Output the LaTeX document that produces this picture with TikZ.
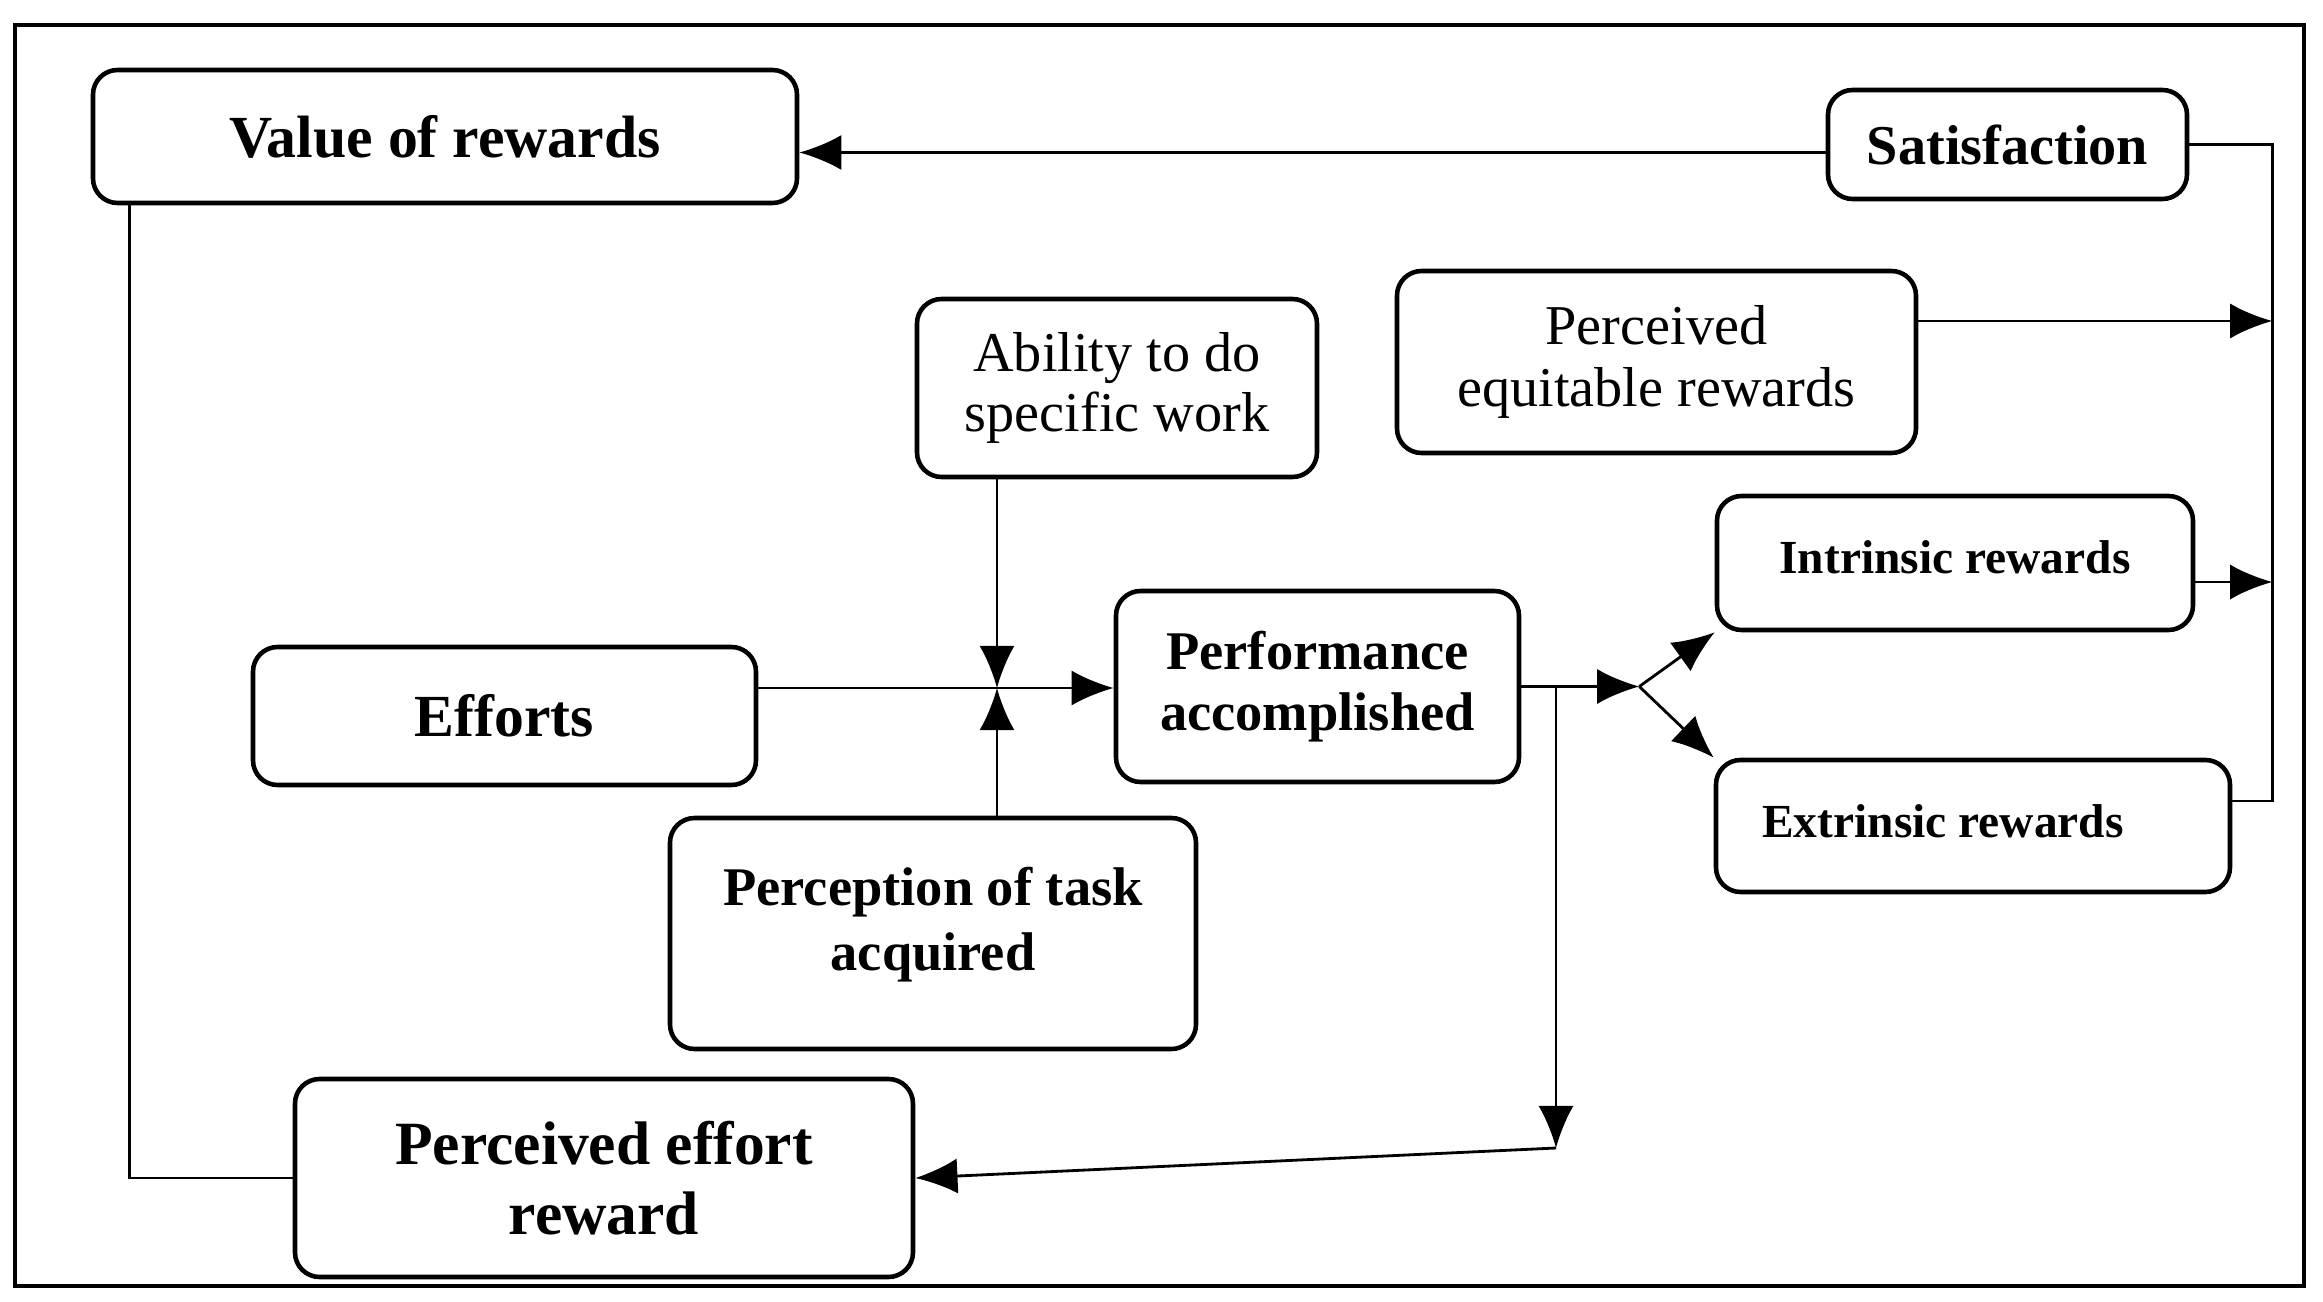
\documentclass[tikz,border=0pt]{standalone}
\usepackage{fontspec}
\setmainfont{Liberation Serif}
\usetikzlibrary{arrows.meta}

\begin{document}
\begin{tikzpicture}[
    box/.style={draw, line width=1.3pt, rounded corners=7pt, align=center, inner sep=2pt},
    link/.style={line width=0.8pt},
    feed/.style={-{Latex[length=12pt,width=10pt]}}]
\useasboundingbox (0,0) rectangle (23.23,-13.02);

% Outer frame around the whole model
\draw[line width=1pt] (0.15,-0.25) rectangle (23.04,-12.86);

% The boxes of the model, placed at fixed coordinates
\node[box, minimum width=7.04cm, minimum height=1.33cm,
      font=\fontsize{17}{20}\selectfont\bfseries] (val) at (4.45,-1.365) {Value of rewards};
\node[box, minimum width=3.59cm, minimum height=1.09cm,
      font=\fontsize{16}{19}\selectfont\bfseries] (sat) at (20.075,-1.445) {Satisfaction};
\node[box, minimum width=5.19cm, minimum height=1.82cm,
      font=\fontsize{16}{17.5}\selectfont] (equit) at (16.565,-3.62) {Perceived\\equitable rewards};
\node[box, minimum width=4.00cm, minimum height=1.78cm,
      font=\fontsize{16}{17}\selectfont] (abil) at (11.17,-3.88) {Ability to do\\specific work};
\node[box, minimum width=4.76cm, minimum height=1.34cm,
      font=\fontsize{13.5}{16}\selectfont\bfseries] (intr) at (19.55,-5.63)
      {\raisebox{0.12cm}{Intrinsic rewards}};
\node[box, minimum width=5.03cm, minimum height=1.38cm,
      font=\fontsize{17}{20}\selectfont\bfseries] (effort) at (5.045,-7.16) {Efforts};
\node[box, minimum width=4.03cm, minimum height=1.91cm,
      font=\fontsize{15.5}{17.5}\selectfont\bfseries] (perf) at (13.175,-6.865) {Performance\\accomplished};
\node[box, minimum width=5.14cm, minimum height=1.32cm,
      font=\fontsize{13.5}{16}\selectfont\bfseries] (extr) at (19.73,-8.26)
      {\hspace*{-0.6cm}\raisebox{0.1cm}{Extrinsic rewards}};
\node[box, minimum width=5.26cm, minimum height=2.31cm, text depth=0.3cm,
      font=\fontsize{15.5}{18.5}\selectfont\bfseries] (task) at (9.33,-9.335) {Perception of task\\acquired};
\node[box, minimum width=6.18cm, minimum height=1.98cm,
      font=\fontsize{17.5}{20}\selectfont\bfseries] (peff) at (6.04,-11.78) {Perceived effort\\reward};

% Satisfaction feeds back into the value of rewards
\draw[link,feed] ([yshift=-0.08cm]sat.west) coordinate (s) -- (s -| val.east);

% Collector line on the right, joined to satisfaction
\draw[link] (sat.east) -- ++(0.83,0) coordinate (bus) |- ([yshift=0.25cm]extr.east);
\foreach \n/\dy in {equit/0.41, intr/-0.19}
    \draw[link,feed] ([yshift=\dy cm]\n.east) coordinate (s) -- (s -| bus);

% Return line from perceived effort reward up to value of rewards
\draw[link] ([xshift=0.39cm]val.south west) |- (peff.west);

% Efforts, ability and task perception meet before performance
\coordinate (jn) at (9.97,-6.88);
\draw[link,feed] (effort.east |- jn) -- (perf.west |- jn);
\draw[link,feed] (abil.south -| jn) -- (jn);
\draw[link,feed] (task.north -| jn) -- (jn);

% Performance branches into intrinsic and extrinsic rewards
\draw[link,feed] (perf.east) -- ++(1.18,0) coordinate (br);
\draw[link,feed] (br) -- (intr.south west);
\draw[link,feed] (br) -- (extr.north west);

% and drops down to the perceived effort reward
\coordinate (drop) at (15.56,-11.48);
\draw[link,feed] (perf.east -| drop) -- (drop);
\draw[link,feed] (drop) -- (peff.east);
\end{tikzpicture}
\end{document}
